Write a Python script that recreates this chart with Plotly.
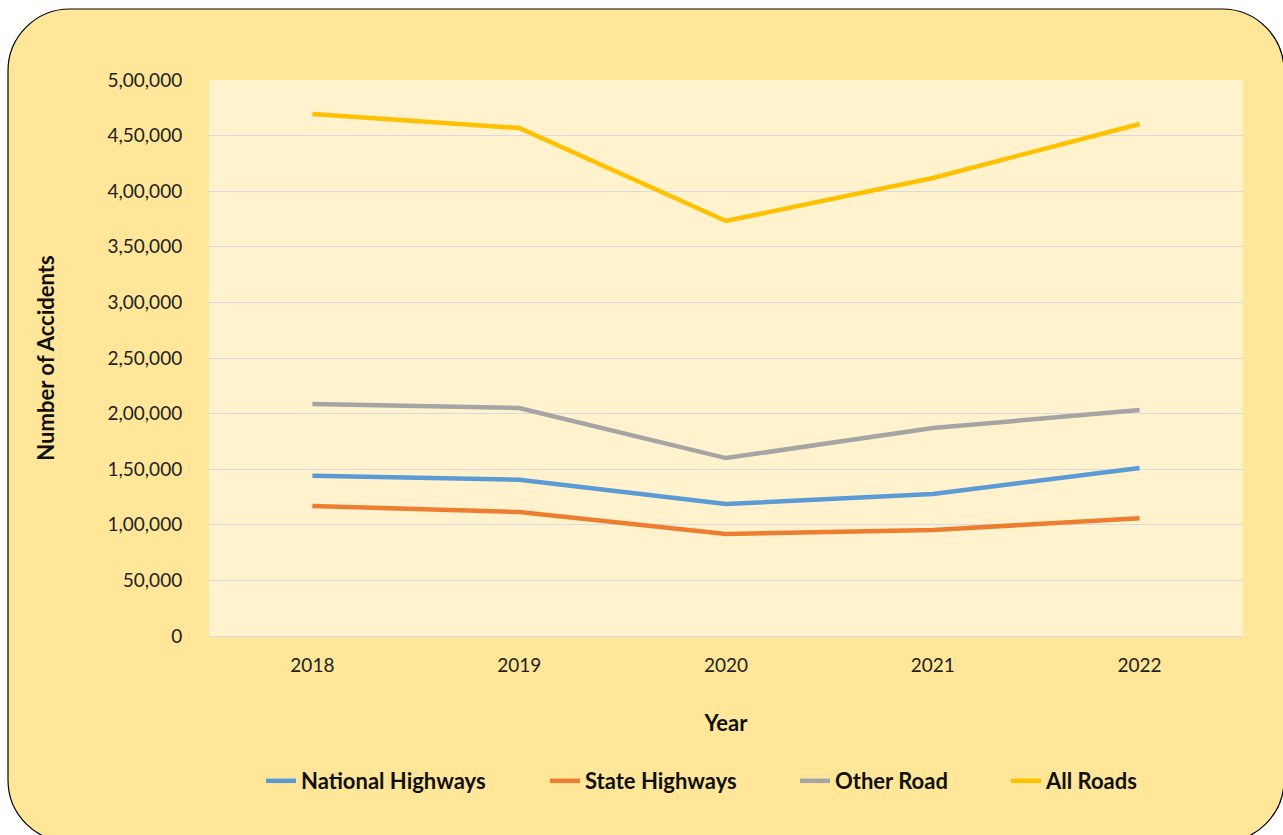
import plotly.graph_objects as go

years = ["2018", "2019", "2020", "2021", "2022"]
national_highways = [144000, 140500, 118700, 127700, 151000]
state_highways = [117000, 111500, 91700, 95300, 106000]
other_road = [208600, 205000, 160000, 187000, 203200]
all_roads = [469400, 456800, 373200, 411900, 460400]

series_names = ["National Highways", "State Highways", "Other Road", "All Roads"]
series_values = [national_highways, state_highways, other_road, all_roads]
series_colors = ["#5B9BD5", "#ED7D31", "#A5A5A5", "#FFC000"]

y_tickvals = [0, 50000, 100000, 150000, 200000, 250000, 300000, 350000, 400000, 450000, 500000]
y_ticktext = ["0", "50,000", "1,00,000", "1,50,000", "2,00,000", "2,50,000",
              "3,00,000", "3,50,000", "4,00,000", "4,50,000", "5,00,000"]

W, H = 1283, 835
L, R, T, B = 209, 1243, 80, 636
FONT = "Lato"
legend_text_x = [301, 585, 835, 1046]


def px(x):
    return (x - L) / (R - L)


def py(y):
    return (B - y) / (B - T)


fig = go.Figure()
legend_ids = ["legend", "legend2", "legend3", "legend4"]
for name, vals, col, lid in zip(series_names, series_values, series_colors, legend_ids):
    fig.add_trace(go.Scatter(x=years, y=vals, name=name, mode="lines", legend=lid,
                             line=dict(color=col, width=4.5)))

# rounded outer card
x0, y0, x1, y1, r = 8, 9, 1284, 842, 62
k = 0.5523 * r
pts = [
    f"M {px(x0 + r)},{py(y0)}",
    f"L {px(x1 - r)},{py(y0)}",
    f"C {px(x1 - r + k)},{py(y0)} {px(x1)},{py(y0 + r - k)} {px(x1)},{py(y0 + r)}",
    f"L {px(x1)},{py(y1 - r)}",
    f"C {px(x1)},{py(y1 - r + k)} {px(x1 - r + k)},{py(y1)} {px(x1 - r)},{py(y1)}",
    f"L {px(x0 + r)},{py(y1)}",
    f"C {px(x0 + r - k)},{py(y1)} {px(x0)},{py(y1 - r + k)} {px(x0)},{py(y1 - r)}",
    f"L {px(x0)},{py(y0 + r)}",
    f"C {px(x0)},{py(y0 + r - k)} {px(x0 + r - k)},{py(y0)} {px(x0 + r)},{py(y0)}",
    "Z",
]
fig.add_shape(type="path", path=" ".join(pts), xref="paper", yref="paper",
              fillcolor="#FFE699", line=dict(color="#000000", width=1.2), layer="below")
fig.add_shape(type="rect", x0=0, y0=0, x1=1, y1=1, xref="paper", yref="paper",
              fillcolor="#FFF2CC", line=dict(width=0), layer="below")

legend_font = dict(family=FONT, size=22, color="#111111", weight="bold")
legend_layout = {}
for lid, tx in zip(legend_ids, legend_text_x):
    legend_layout[lid] = dict(orientation="h", x=px(tx - 40), xanchor="left",
                              y=py(781), yanchor="middle", font=legend_font,
                              bgcolor="rgba(0,0,0,0)", borderwidth=0)

fig.update_layout(
    width=W, height=H,
    margin=dict(l=L, r=W - R, t=T, b=H - B, pad=0),
    paper_bgcolor="#FFFFFF",
    plot_bgcolor="rgba(0,0,0,0)",
    font=dict(family=FONT, size=18, color="#222222"),
    showlegend=True,
    xaxis=dict(
        type="category", range=[-0.5, 4.5], showgrid=False, zeroline=False,
        showline=True, linecolor="#D6DAE2", linewidth=1.3,
        ticks="outside", ticklen=12, tickcolor="rgba(0,0,0,0)",
        tickfont=dict(family=FONT, size=19, color="#222222"),
        title=dict(text="Year", font=dict(family=FONT, size=22, color="#111111", weight="bold"),
                   standoff=40),
        fixedrange=True,
    ),
    yaxis=dict(
        range=[0, 500000], tickvals=y_tickvals, ticktext=y_ticktext,
        showgrid=True, gridcolor="#D6DAE2", gridwidth=1.3, zeroline=False, showline=False,
        ticks="outside", ticklen=22, tickcolor="rgba(0,0,0,0)",
        tickfont=dict(family=FONT, size=19, color="#222222"),
        title=dict(text="Number of Accidents",
                   font=dict(family=FONT, size=22, color="#111111", weight="bold"),
                   standoff=46),
        fixedrange=True,
    ),
    **legend_layout,
)

fig.write_html("out.html", config={"displayModeBar": False},
               post_script="document.body.style.margin='0';document.body.style.overflow='hidden';")
